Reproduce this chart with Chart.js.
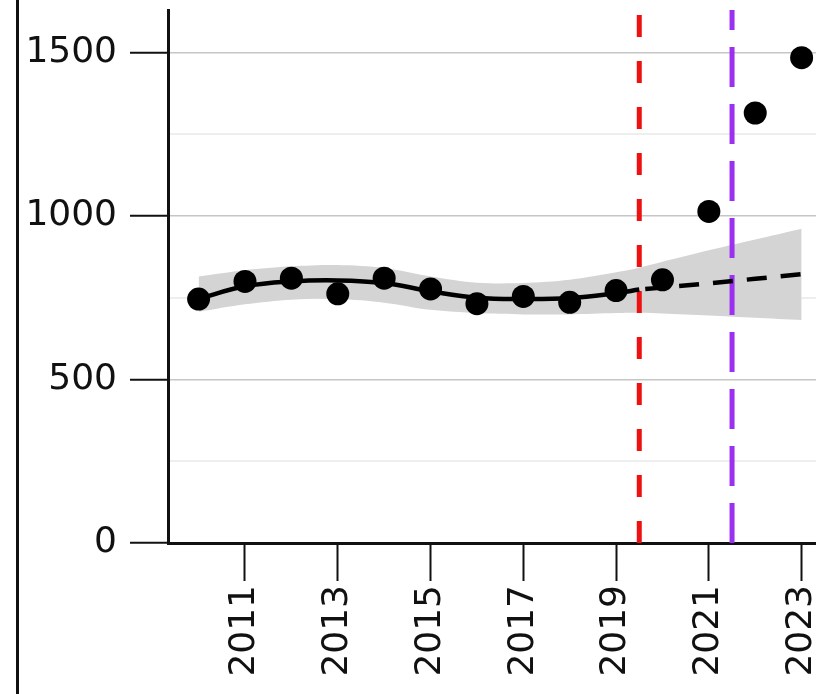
<!DOCTYPE html>
<html>
<head>
<meta charset="utf-8">
<script src="https://cdn.jsdelivr.net/npm/chart.js@4.4.1/dist/chart.umd.min.js"></script>
<style>
  html, body { margin: 0; padding: 0; background: #fff; }
  #wrap { width: 816px; height: 694px; position: relative; }
</style>
</head>
<body>
<div id="wrap"><canvas id="chart"></canvas></div>
<script>
// ── Data ──────────────────────────────────────────────────────────────────────
const years  = [2010, 2011, 2012, 2013, 2014, 2015, 2016, 2017, 2018, 2019, 2020, 2021, 2022, 2023];
const counts = [746, 800, 810, 762, 810, 777, 732, 754, 736, 772, 805, 1014, 1315, 1484];

// fitted trend (solid, up to the red line)
const fitYears  = [2010, 2011, 2012, 2013, 2014, 2015, 2016, 2017, 2018, 2019, 2019.5];
const fitValues = [747, 785, 800, 803, 795, 770, 750, 746, 749, 764, 775];

// projected trend (dashed)
const forecastYears  = [2019.5, 2020, 2021, 2022, 2023];
const forecastValues = [775, 781, 794, 808, 822];

// confidence band
const bandYears = [2010, 2011, 2012, 2013, 2014, 2015, 2016, 2017, 2018, 2019, 2019.5, 2020, 2021, 2022, 2023];
const bandUpper = [815, 834, 846, 850, 841, 815, 796, 795, 805, 828, 842, 860, 895, 928, 961];
const bandLower = [707, 730, 744, 746, 735, 713, 703, 699, 699, 703, 704, 702, 696, 689, 682];

// vertical markers
const redLineYear    = 2019.5;
const purpleLineYear = 2021.5;

const xTickYears = [2011, 2013, 2015, 2017, 2019, 2021, 2023];
const yTickValues = [0, 250, 500, 750, 1000, 1250, 1500];

const Y_MAX = 1630;

const pairs = (xs, ys) => xs.map((x, i) => ({ x, y: ys[i] }));
const vline = (x) => [{ x, y: 0 }, { x, y: Y_MAX }];

// left frame line of the panel
const frameLine = {
    id: 'frameLine',
    beforeDraw(chart) {
        const { ctx, height } = chart;
        ctx.save();
        ctx.strokeStyle = '#111';
        ctx.lineWidth = 3;
        ctx.beginPath();
        ctx.moveTo(17.5, 0);
        ctx.lineTo(17.5, height);
        ctx.stroke();
        ctx.restore();
    },
};

const noPad = (scale) => {
    scale.paddingTop = 0;
    scale.paddingBottom = 0;
    scale.paddingLeft = 0;
    scale.paddingRight = 0;
};

new Chart(document.getElementById('chart'), {
    type: 'line',
    data: {
        datasets: [
            {
                label: 'observed',
                data: pairs(years, counts),
                showLine: false,
                pointRadius: 11.5,
                pointBackgroundColor: '#000',
                pointBorderWidth: 0,
            },
            {
                label: 'fit',
                data: pairs(fitYears, fitValues),
                borderColor: '#000',
                borderWidth: 4.5,
                pointRadius: 0,
                tension: 0.4,
            },
            {
                label: 'forecast',
                data: pairs(forecastYears, forecastValues),
                borderColor: '#000',
                borderWidth: 4.5,
                borderDash: [20, 14],
                borderDashOffset: -6,
                pointRadius: 0,
            },
            {
                label: 'red',
                data: vline(redLineYear),
                borderColor: '#ee1111',
                borderWidth: 5,
                borderDash: [22, 24],
                pointRadius: 0,
            },
            {
                label: 'purple',
                data: vline(purpleLineYear),
                borderColor: '#9b30f0',
                borderWidth: 5,
                borderDash: [40, 17],
                pointRadius: 0,
            },
            {
                label: 'upper',
                data: pairs(bandYears, bandUpper),
                borderWidth: 0,
                borderColor: 'rgba(0,0,0,0)',
                backgroundColor: '#d4d4d4',
                pointRadius: 0,
                tension: 0.3,
                fill: '+1',
            },
            {
                label: 'lower',
                data: pairs(bandYears, bandLower),
                borderWidth: 0,
                borderColor: 'rgba(0,0,0,0)',
                pointRadius: 0,
                tension: 0.3,
                fill: false,
            },
        ],
    },
    options: {
        responsive: true,
        maintainAspectRatio: false,
        animation: false,
        layout: { autoPadding: false, padding: { top: 10, right: 0, left: 0, bottom: 0 } },
        plugins: {
            legend: { display: false },
            tooltip: { enabled: false },
        },
        scales: {
            x: {
                type: 'linear',
                min: 2009.34,
                max: 2023.31,
                afterBuildTicks: (scale) => {
                    scale.ticks = xTickYears.map((v) => ({ value: v }));
                },
                afterFit: (scale) => {
                    scale.height = 151;
                    noPad(scale);
                },
                ticks: {
                    autoSkip: false,
                    minRotation: 90,
                    maxRotation: 90,
                    padding: 4,
                    color: '#111',
                    font: { family: 'DejaVu Sans', size: 36 },
                    callback: (v) => String(v),
                },
                grid: {
                    drawOnChartArea: false,
                    tickLength: 38,
                    tickWidth: 2,
                    tickColor: '#111',
                },
                border: { color: '#111', width: 3 },
            },
            y: {
                min: 0,
                max: Y_MAX,
                afterBuildTicks: (scale) => {
                    scale.ticks = yTickValues.map((v) => ({ value: v }));
                },
                afterFit: (scale) => {
                    scale.width = 168;
                    noPad(scale);
                },
                ticks: {
                    padding: 13,
                    color: '#111',
                    font: { family: 'DejaVu Sans', size: 36 },
                    callback: (v) => (v % 500 === 0 ? String(v) : ''),
                },
                grid: {
                    color: (ctx) => (ctx.tick && ctx.tick.value % 500 === 0 ? '#c6c6c6' : '#eeeeee'),
                    lineWidth: (ctx) => (ctx.tick && ctx.tick.value % 500 === 0 ? 1.5 : 2),
                    tickLength: 38,
                    tickWidth: 2,
                    tickColor: (ctx) => (ctx.tick && ctx.tick.value % 500 === 0 ? '#111' : 'rgba(0,0,0,0)'),
                },
                border: { color: '#111', width: 3 },
            },
        },
    },
    plugins: [frameLine],
});
</script>
</body>
</html>
